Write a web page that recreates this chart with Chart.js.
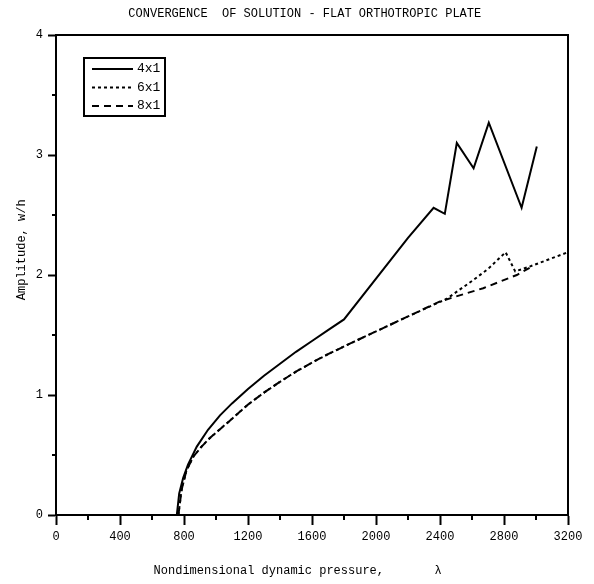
<!DOCTYPE html>
<html>
<head>
<meta charset="utf-8">
<script src="https://cdn.jsdelivr.net/npm/chart.js@4/dist/chart.umd.min.js"></script>
<style>
  html, body { margin: 0; padding: 0; background: #fff; }
</style>
</head>
<body>
<canvas id="c" width="594" height="584"></canvas>
<script>
// Amplitude w/h against nondimensional dynamic pressure for three mode counts
const lambda4x1 = [755, 770, 795, 825, 880, 950, 1025, 1100, 1200, 1300, 1400, 1500, 1600, 1700, 1800, 2200, 2360, 2430, 2505, 2610, 2705, 2910, 3005];
const amp4x1    = [0, 0.18, 0.31, 0.42, 0.57, 0.71, 0.83, 0.93, 1.05, 1.16, 1.26, 1.36, 1.45, 1.54, 1.63, 2.31, 2.56, 2.51, 3.10, 2.89, 3.27, 2.56, 3.07];

const lambda6x1 = [765, 785, 815, 860, 910, 960, 1090, 1200, 1300, 1400, 1500, 1600, 1700, 1840, 2000, 2200, 2440, 2600, 2700, 2810, 2870, 2960, 3200];
const amp6x1    = [0, 0.21, 0.37, 0.49, 0.57, 0.64, 0.79, 0.92, 1.02, 1.11, 1.195, 1.27, 1.34, 1.43, 1.53, 1.655, 1.80, 1.95, 2.05, 2.19, 2.03, 2.07, 2.19];

const lambda8x1 = [765, 785, 815, 860, 910, 960, 1090, 1200, 1300, 1400, 1500, 1600, 1700, 1840, 2000, 2200, 2400, 2670, 2880, 2960];
const amp8x1    = [0, 0.21, 0.37, 0.49, 0.57, 0.64, 0.79, 0.92, 1.02, 1.11, 1.195, 1.27, 1.34, 1.43, 1.53, 1.655, 1.78, 1.89, 2.00, 2.06];

const seriesLabels = ['4x1', '6x1', '8x1'];

const xTickValues = [0, 400, 800, 1200, 1600, 2000, 2400, 2800, 3200];
const xMinorValues = [200, 600, 1000, 1400, 1800, 2200, 2600, 3000];
const yTickValues = [0, 1, 2, 3, 4];
const yMinorValues = [0.5, 1.5, 2.5, 3.5];

const MONO = "'Liberation Mono', 'Courier New', monospace";

function toPoints(xs, ys) {
  return xs.map((x, i) => ({ x: x, y: ys[i] }));
}

// Closes the plot box on the top and right sides
const frameBox = {
  id: 'frameBox',
  afterDraw(chart) {
    const { ctx, chartArea: a } = chart;
    ctx.save();
    ctx.strokeStyle = '#000';
    ctx.lineWidth = 2;
    ctx.strokeRect(a.left, a.top, a.right - a.left, a.bottom - a.top);
    ctx.restore();
  }
};

// Short intermediate tick marks between the labelled ones
const minorTicks = {
  id: 'minorTicks',
  afterDraw(chart) {
    const { ctx, chartArea: a, scales } = chart;
    ctx.save();
    ctx.strokeStyle = '#000';
    ctx.lineWidth = 2;
    ctx.beginPath();
    xMinorValues.forEach(v => {
      const px = scales.x.getPixelForValue(v);
      ctx.moveTo(px, a.bottom);
      ctx.lineTo(px, a.bottom + 5);
    });
    yMinorValues.forEach(v => {
      const py = scales.y.getPixelForValue(v);
      ctx.moveTo(a.left, py);
      ctx.lineTo(a.left - 4, py);
    });
    ctx.stroke();
    ctx.restore();
  }
};

// Boxed key drawn inside the plot area
const boxedKey = {
  id: 'boxedKey',
  afterDraw(chart, args, o) {
    const { ctx, chartArea: a } = chart;
    const x0 = a.left + o.left;
    const y0 = a.top + o.top;
    ctx.save();
    ctx.strokeStyle = '#000';
    ctx.fillStyle = '#000';
    ctx.lineWidth = 2;
    ctx.setLineDash([]);
    ctx.strokeRect(x0, y0, o.width, o.height);
    ctx.font = o.font;
    ctx.textBaseline = 'middle';
    ctx.textAlign = 'left';
    chart.data.datasets.forEach((ds, i) => {
      const yy = y0 + o.firstRow + i * o.rowGap;
      ctx.lineWidth = ds.borderWidth;
      ctx.setLineDash(ds.borderDash || []);
      ctx.beginPath();
      ctx.moveTo(x0 + o.sampleStart, yy);
      ctx.lineTo(x0 + o.sampleEnd, yy);
      ctx.stroke();
      ctx.setLineDash([]);
      ctx.fillText(ds.label, x0 + o.textX, yy);
    });
    ctx.restore();
  }
};

const lineStyle = { borderColor: '#000', borderWidth: 2, pointRadius: 0, tension: 0, fill: false };

new Chart(document.getElementById('c'), {
  type: 'line',
  data: {
    datasets: [
      Object.assign({ label: seriesLabels[0], data: toPoints(lambda4x1, amp4x1), borderDash: [] }, lineStyle),
      Object.assign({ label: seriesLabels[1], data: toPoints(lambda6x1, amp6x1), borderDash: [3, 3] }, lineStyle),
      Object.assign({ label: seriesLabels[2], data: toPoints(lambda8x1, amp8x1), borderDash: [7, 5] }, lineStyle)
    ]
  },
  options: {
    responsive: false,
    animation: false,
    devicePixelRatio: 1,
    layout: { padding: { left: 0, right: 26, top: 0, bottom: 0 } },
    plugins: {
      legend: { display: false },
      tooltip: { enabled: false },
      title: {
        display: true,
        fullSize: false,
        text: 'CONVERGENCE  OF SOLUTION - FLAT ORTHOTROPIC PLATE  ',
        color: '#000',
        font: { family: MONO, size: 12, weight: 'normal' },
        padding: { top: 7, bottom: 13.6 }
      },
      boxedKey: {
        left: 28, top: 23, width: 81, height: 58,
        firstRow: 11, rowGap: 18.5,
        sampleStart: 8, sampleEnd: 49, textX: 53,
        font: "13px " + MONO
      }
    },
    scales: {
      x: {
        type: 'linear',
        min: 0,
        max: 3200,
        afterBuildTicks: s => { s.ticks = xTickValues.map(v => ({ value: v })); },
        afterFit: s => { s.height = 69; },
        grid: { drawOnChartArea: false, drawTicks: true, tickLength: 10, tickWidth: 2, tickColor: '#000' },
        border: { display: true, color: '#000', width: 2 },
        ticks: {
          color: '#000', font: { family: MONO, size: 12 }, padding: 5, maxRotation: 0, autoSkip: false,
          callback: v => String(v)
        },
        title: {
          display: true,
          text: 'Nondimensional dynamic pressure,       λ    ',
          color: '#000',
          font: { family: MONO, size: 12 },
          padding: { top: 0, bottom: 6 }
        }
      },
      y: {
        type: 'linear',
        min: 0,
        max: 4,
        afterBuildTicks: s => { s.ticks = yTickValues.map(v => ({ value: v })); },
        afterFit: s => { s.width = 56; },
        grid: { drawOnChartArea: false, drawTicks: true, tickLength: 8, tickWidth: 2, tickColor: '#000' },
        border: { display: true, color: '#000', width: 2 },
        ticks: { color: '#000', font: { family: MONO, size: 12 }, padding: 5, callback: v => String(v) },
        title: {
          display: true,
          text: '       Amplitude, w/h',
          color: '#000',
          font: { family: MONO, size: 12 },
          padding: { top: 15, bottom: 0 }
        }
      }
    }
  },
  plugins: [frameBox, minorTicks, boxedKey]
});
</script>
</body>
</html>
